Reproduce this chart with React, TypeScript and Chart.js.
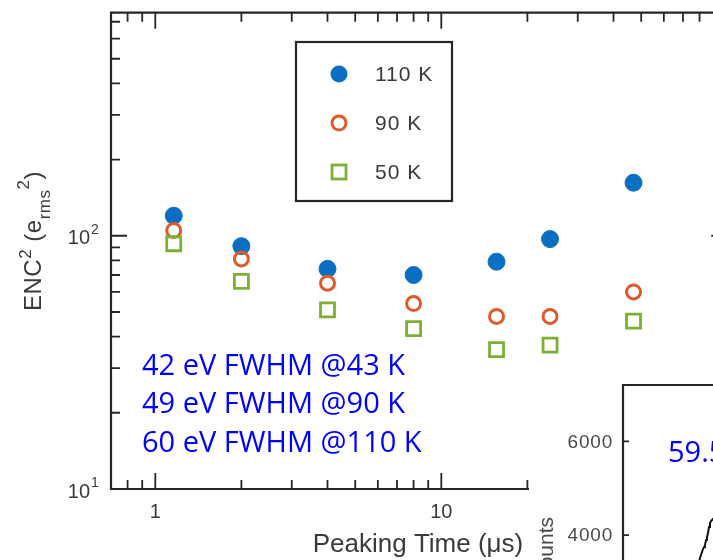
import React, { useEffect, useRef } from 'react';
import { Chart, registerables } from 'chart.js';

Chart.register(...registerables);

// ---------- main chart data ----------
const peakingTime = [1.16, 2, 4, 8, 15.6, 24, 47];
const enc110K = [120, 91, 74, 70, 79, 97, 162];
const enc90K = [105, 81, 65, 54, 48, 48, 60];
const enc50K = [93, 66, 51, 43, 35.5, 37, 46];
const seriesLabels = ['110 K', '90 K', '50 K'];
const seriesColors = ['#0a6fc2', '#df5a26', '#7cb033'];

const xMajorTicks = [1, 10, 100];
const xMinorTicks = [0.8, 0.9, 2, 3, 4, 5, 6, 7, 8, 9, 20, 30, 40, 50, 60, 70, 80, 90];
const xTickLabels = ['1', '10'];
const yMajorTicks = [10, 100];
const yMinorTicks = [20, 30, 40, 50, 60, 70, 80, 90, 200, 300, 400, 500, 600, 700];
const yTickExponents = ['1', '2'];

const annotationLines = ['42 eV FWHM @43 K', '49 eV FWHM @90 K', '60 eV FWHM @110 K'];

// ---------- inset spectrum data ----------
const spectrumEnergy = [56.533, 56.567, 56.6, 56.633, 56.667, 56.7, 56.733, 56.767, 56.8, 56.833, 56.867, 56.9, 56.933, 57.0, 57.1];
const spectrumCounts = [3430, 3515, 3579, 3579, 3706, 3749, 3791, 3898, 3962, 4047, 4175, 4260, 4303, 4345, 4430];
const insetYTicks = [4000, 6000];
const insetPeakLabel = '59.5 keV';

const AXIS_FONT = '"Liberation Sans", Arial, Helvetica, sans-serif';
const NOTE_FONT = '"Open Sans", "Noto Sans", sans-serif';
const AXIS_COLOR = '#262626';
const LABEL_COLOR = '#3a3a3a';

type Seg = { t: string; size: number; dy: number };

function drawSegments(ctx: CanvasRenderingContext2D, segs: Seg[], x: number, y: number, rot: number) {
  ctx.save();
  ctx.translate(x, y);
  ctx.rotate(rot);
  ctx.textAlign = 'left';
  ctx.textBaseline = 'alphabetic';
  (ctx as any).letterSpacing = '0.5px';
  let cx = 0;
  for (const s of segs) {
    ctx.font = `${s.size}px ${AXIS_FONT}`;
    ctx.fillText(s.t, cx, s.dy);
    cx += ctx.measureText(s.t).width;
  }
  (ctx as any).letterSpacing = '0px';
  ctx.restore();
}

const mainPlugin = {
  id: 'mainDecor',
  beforeDatasetsDraw(chart: any) {
    const ctx: CanvasRenderingContext2D = chart.ctx;
    const xs = chart.scales.x;
    const ys = chart.scales.y;
    const { left, right, top, bottom } = chart.chartArea;
    ctx.save();
    ctx.strokeStyle = AXIS_COLOR;
    ctx.lineWidth = 2.2;
    ctx.beginPath();
    ctx.moveTo(left, top);
    ctx.lineTo(right, top);
    ctx.lineTo(right, bottom);
    ctx.lineTo(left, bottom);
    ctx.closePath();
    ctx.stroke();
    ctx.lineWidth = 1.8;
    ctx.beginPath();
    const xt = (v: number, len: number) => {
      const px = xs.getPixelForValue(v);
      ctx.moveTo(px, bottom);
      ctx.lineTo(px, bottom - len);
      ctx.moveTo(px, top);
      ctx.lineTo(px, top + len);
    };
    const yt = (v: number, len: number) => {
      const py = ys.getPixelForValue(v);
      ctx.moveTo(left, py);
      ctx.lineTo(left + len, py);
      ctx.moveTo(right, py);
      ctx.lineTo(right - len, py);
    };
    xMajorTicks.forEach((v) => xt(v, 16));
    xMinorTicks.forEach((v) => xt(v, 9));
    yMajorTicks.forEach((v) => yt(v, 16));
    yMinorTicks.forEach((v) => yt(v, 9));
    ctx.stroke();
    ctx.restore();
  },
  afterDraw(chart: any) {
    const ctx: CanvasRenderingContext2D = chart.ctx;
    const xs = chart.scales.x;
    const ys = chart.scales.y;
    const { bottom } = chart.chartArea;
    ctx.save();
    ctx.fillStyle = LABEL_COLOR;
    // x tick labels
    ctx.font = `20px ${AXIS_FONT}`;
    ctx.textAlign = 'center';
    ctx.textBaseline = 'middle';
    xTickLabels.forEach((lab) => {
      ctx.fillText(lab, xs.getPixelForValue(Number(lab)), bottom + 23);
    });
    // y tick labels (10^n)
    yMajorTicks.forEach((v, i) => {
      const py = ys.getPixelForValue(v);
      ctx.font = `20px ${AXIS_FONT}`;
      ctx.textAlign = 'right';
      ctx.textBaseline = 'middle';
      ctx.fillText('10', 90, py + 3);
      ctx.font = `14px ${AXIS_FONT}`;
      ctx.textAlign = 'left';
      ctx.fillText(yTickExponents[i], 91, py - 6);
    });
    // x title
    ctx.font = `26px ${AXIS_FONT}`;
    ctx.textAlign = 'center';
    ctx.textBaseline = 'alphabetic';
    ctx.fillText('Peaking Time (\u03bcs)', 418, 552);
    // y title
    drawSegments(
      ctx,
      [
        { t: 'ENC', size: 24, dy: 0 },
        { t: '2', size: 17, dy: -10 },
        { t: ' (e', size: 24, dy: 0 },
        { t: 'rms', size: 17, dy: 9 },
        { t: '2', size: 17, dy: -12 },
        { t: ')', size: 24, dy: 0 },
      ],
      41,
      311,
      -Math.PI / 2
    );
    // legend box
    const lx0 = 296, ly0 = 42, lx1 = 452, ly1 = 201;
    ctx.strokeStyle = AXIS_COLOR;
    ctx.lineWidth = 2.2;
    ctx.strokeRect(lx0, ly0, lx1 - lx0, ly1 - ly0);
    const rowY = [74, 123, 172];
    const mx = 339;
    // 110 K marker: filled circle
    ctx.fillStyle = seriesColors[0];
    ctx.beginPath();
    ctx.arc(mx, rowY[0], 8.5, 0, Math.PI * 2);
    ctx.fill();
    // 90 K: open circle
    ctx.strokeStyle = seriesColors[1];
    ctx.lineWidth = 3;
    ctx.beginPath();
    ctx.arc(mx, rowY[1], 7, 0, Math.PI * 2);
    ctx.stroke();
    // 50 K: open square
    ctx.strokeStyle = seriesColors[2];
    ctx.lineWidth = 2.8;
    ctx.strokeRect(mx - 7, rowY[2] - 7, 14, 14);
    ctx.fillStyle = LABEL_COLOR;
    ctx.font = `21px ${AXIS_FONT}`;
    ctx.textAlign = 'left';
    ctx.textBaseline = 'middle';
    (ctx as any).letterSpacing = '1px';
    seriesLabels.forEach((lab, i) => ctx.fillText(lab, 375, rowY[i] + 1));
    (ctx as any).letterSpacing = '0px';
    // annotation
    ctx.fillStyle = '#0000ff';
    ctx.font = `29px ${NOTE_FONT}`;
    ctx.textBaseline = 'alphabetic';
    const baselines = [375, 413, 452];
    annotationLines.forEach((t, i) => ctx.fillText(t, 142, baselines[i]));
    ctx.restore();
  },
};

const insetPlugin = {
  id: 'insetDecor',
  beforeDraw(chart: any) {
    const ctx: CanvasRenderingContext2D = chart.ctx;
    ctx.save();
    ctx.fillStyle = '#ffffff';
    ctx.fillRect(0, 0, chart.width, chart.height);
    ctx.restore();
  },
  afterDraw(chart: any) {
    const ctx: CanvasRenderingContext2D = chart.ctx;
    const ys = chart.scales.y;
    const { left, right, top, bottom } = chart.chartArea;
    ctx.save();
    ctx.strokeStyle = AXIS_COLOR;
    ctx.lineWidth = 2.2;
    ctx.beginPath();
    ctx.moveTo(left, bottom);
    ctx.lineTo(left, top);
    ctx.lineTo(right, top);
    ctx.stroke();
    ctx.lineWidth = 1.8;
    ctx.beginPath();
    insetYTicks.forEach((v) => {
      const py = ys.getPixelForValue(v);
      ctx.moveTo(left, py);
      ctx.lineTo(left + 6, py);
    });
    ctx.stroke();
    ctx.fillStyle = '#4a4a4a';
    ctx.font = `19px ${AXIS_FONT}`;
    ctx.textAlign = 'right';
    ctx.textBaseline = 'middle';
    (ctx as any).letterSpacing = '0.8px';
    insetYTicks.forEach((v) => ctx.fillText(String(v), left - 10, ys.getPixelForValue(v) + 1));
    (ctx as any).letterSpacing = '0px';
    // Counts label (rotated)
    ctx.save();
    ctx.translate(24, 147);
    ctx.rotate(-Math.PI / 2);
    ctx.textAlign = 'right';
    ctx.textBaseline = 'alphabetic';
    ctx.font = `21px ${AXIS_FONT}`;
    ctx.fillText('Counts', 0, 0);
    ctx.restore();
    // peak label
    ctx.fillStyle = '#0000ff';
    ctx.font = `29px ${NOTE_FONT}`;
    ctx.textAlign = 'left';
    ctx.textBaseline = 'alphabetic';
    ctx.fillText(insetPeakLabel, left + 45, 92);
    ctx.restore();
  },
};

export default function App() {
  const mainRef = useRef<HTMLCanvasElement>(null);
  const insetRef = useRef<HTMLCanvasElement>(null);

  useEffect(() => {
    const mk = (xsArr: number[], ysArr: number[]) => xsArr.map((x, i) => ({ x, y: ysArr[i] }));
    const main = new Chart(mainRef.current as HTMLCanvasElement, {
      type: 'scatter',
      data: {
        datasets: [
          {
            label: seriesLabels[0],
            data: mk(peakingTime, enc110K),
            pointStyle: 'circle',
            pointRadius: 8.5,
            backgroundColor: seriesColors[0],
            borderColor: seriesColors[0],
            borderWidth: 1,
            order: 3,
          },
          {
            label: seriesLabels[1],
            data: mk(peakingTime, enc90K),
            pointStyle: 'circle',
            pointRadius: 7,
            backgroundColor: 'rgba(255,255,255,0)',
            borderColor: seriesColors[1],
            borderWidth: 3,
            order: 2,
          },
          {
            label: seriesLabels[2],
            data: mk(peakingTime, enc50K),
            pointStyle: 'rect',
            pointRadius: 9.9,
            backgroundColor: 'rgba(255,255,255,0)',
            borderColor: seriesColors[2],
            borderWidth: 2.8,
            order: 1,
          },
        ],
      },
      options: {
        responsive: false,
        animation: false,
        events: [],
        layout: { padding: { left: 111, top: 7, right: 12, bottom: 71 } },
        plugins: { legend: { display: false }, tooltip: { enabled: false }, title: { display: false } },
        scales: {
          x: { type: 'logarithmic', min: 0.7, max: 100, bounds: 'data', display: false },
          y: { type: 'logarithmic', min: 10, max: 760, bounds: 'data', display: false },
        },
      },
      plugins: [mainPlugin],
    } as any);

    const inset = new Chart(insetRef.current as HTMLCanvasElement, {
      type: 'line',
      data: {
        datasets: [
          {
            label: 'Spectrum',
            data: mk(spectrumEnergy, spectrumCounts),
            borderColor: '#111111',
            borderWidth: 2,
            pointRadius: 0,
            tension: 0,
            fill: false,
          },
        ],
      },
      options: {
        responsive: false,
        animation: false,
        events: [],
        layout: { padding: { left: 94, top: 15, right: 6, bottom: 7 } },
        plugins: { legend: { display: false }, tooltip: { enabled: false } },
        scales: {
          x: { type: 'linear', min: 54, max: 64, display: false },
          y: { type: 'linear', min: 0, max: 7200, display: false },
        },
      },
      plugins: [insetPlugin],
    } as any);

    return () => {
      main.destroy();
      inset.destroy();
    };
  }, []);

  return (
    <div
      style={{
        position: 'absolute',
        left: 0,
        top: 0,
        width: 713,
        height: 560,
        overflow: 'hidden',
        background: '#ffffff',
      }}
    >
      <canvas ref={mainRef} width={740} height={560} style={{ position: 'absolute', left: 0, top: 0 }} />
      <canvas ref={insetRef} width={400} height={360} style={{ position: 'absolute', left: 529, top: 370 }} />
    </div>
  );
}
